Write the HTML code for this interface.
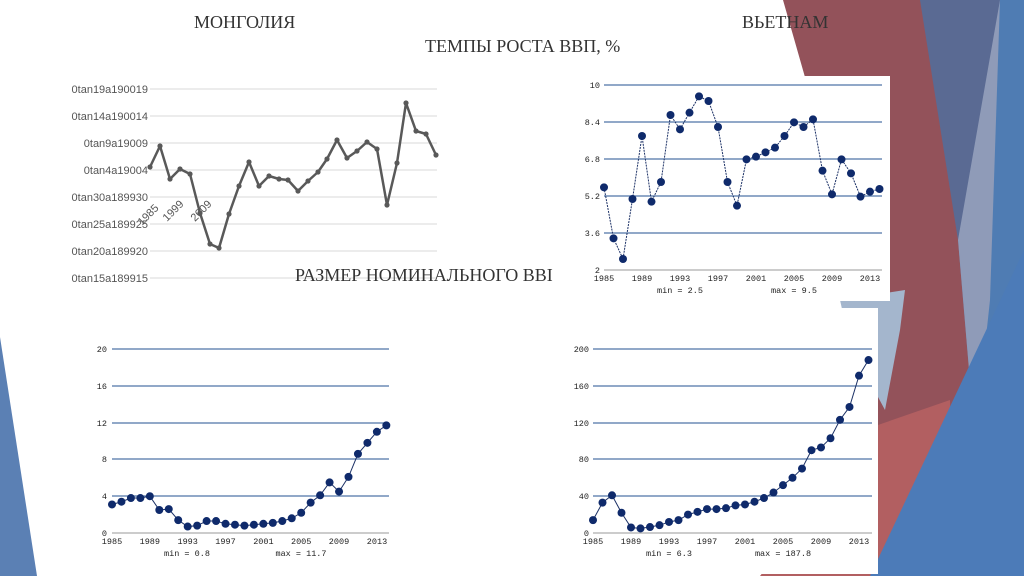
<!DOCTYPE html>
<html><head><meta charset="utf-8"><style>
html,body{margin:0;padding:0;background:#fff;width:1024px;height:576px;overflow:hidden}
svg{display:block}
.t{font-family:"Liberation Serif",serif;font-size:18px;fill:#333}
.m{font-family:"Liberation Sans",sans-serif;font-size:11px;fill:#555}
.k{font-family:"Liberation Mono",monospace;font-size:8.5px;fill:#222}
</style></head><body>
<svg id="s" width="1024" height="576" xmlns="http://www.w3.org/2000/svg">
<polygon points="880,0 1024,0 1024,576 860,576" fill="#4f7cb3"/>
<polygon points="915,0 1000,0 962,240 955,250" fill="#5a6a93"/>
<polygon points="783,0 920,0 958,240 975,440 945,470 878,440 878,300 840,200" fill="#93525a"/>
<polygon points="958,240 1000,0 990,300 975,440" fill="#8f9bb8"/>
<polygon points="840,300 905,290 900,330 885,410 850,345" fill="#a4b6cd"/>
<polygon points="878,425 950,400 955,576 760,576" fill="#b25f61"/>
<polygon points="870,576 1024,250 1024,576" fill="#4c7bb8"/>
<polygon points="0,337 37,576 0,576" fill="#5b80b4"/>
<rect x="567" y="76" width="323" height="225" fill="#fff"/>
<rect x="545" y="308" width="333" height="266" fill="#fff"/>
<text class="t" x="194" y="28">МОНГОЛИЯ</text>
<text class="t" x="742" y="28">ВЬЕТНАМ</text>
<text class="t" x="425" y="52">ТЕМПЫ РОСТА ВВП, %</text>
<g stroke="#d9d9d9" stroke-width="1">
<line x1="150" x2="437" y1="89" y2="89"/><line x1="150" x2="437" y1="116" y2="116"/>
<line x1="150" x2="437" y1="143" y2="143"/><line x1="150" x2="437" y1="170" y2="170"/>
<line x1="150" x2="437" y1="197" y2="197"/><line x1="150" x2="437" y1="224" y2="224"/>
<line x1="150" x2="437" y1="251" y2="251"/><line x1="150" x2="437" y1="278" y2="278"/>
</g>
<g class="m" text-anchor="end">
<text x="148" y="93">0tan19a190019</text><text x="148" y="120">0tan14a190014</text>
<text x="148" y="147">0tan9a19009</text><text x="148" y="174">0tan4a19004</text>
<text x="148" y="201">0tan30a189930</text><text x="148" y="228">0tan25a189925</text>
<text x="148" y="255">0tan20a189920</text><text x="148" y="282">0tan15a189915</text>
</g>
<g class="m" font-size="11">
<text transform="translate(142,226) rotate(-45)">1985</text>
<text transform="translate(167,222) rotate(-45)">1999</text>
<text transform="translate(195,222) rotate(-45)">2009</text>
</g>
<text class="t" x="295" y="281">РАЗМЕР НОМИНАЛЬНОГО ВВI</text>
<g id="charts"></g>
<g class="k" text-anchor="end">
<text x="600" y="88">10</text><text x="600" y="125">8.4</text><text x="600" y="162">6.8</text>
<text x="600" y="199">5.2</text><text x="600" y="236">3.6</text><text x="600" y="273">2</text>
</g>
<g class="k" text-anchor="middle">
<text x="604" y="281">1985</text><text x="642" y="281">1989</text><text x="680" y="281">1993</text>
<text x="718" y="281">1997</text><text x="756" y="281">2001</text><text x="794" y="281">2005</text>
<text x="832" y="281">2009</text><text x="870" y="281">2013</text>
<text x="680" y="293">min = 2.5</text><text x="794" y="293">max = 9.5</text>
</g>
<g class="k" text-anchor="end">
<text x="107" y="352">20</text><text x="107" y="389">16</text><text x="107" y="426">12</text>
<text x="107" y="462">8</text><text x="107" y="499">4</text><text x="107" y="536">0</text>
</g>
<g class="k" text-anchor="middle">
<text x="112" y="544">1985</text><text x="149.8" y="544">1989</text><text x="187.7" y="544">1993</text>
<text x="225.5" y="544">1997</text><text x="263.4" y="544">2001</text><text x="301.2" y="544">2005</text>
<text x="339" y="544">2009</text><text x="377" y="544">2013</text>
<text x="187" y="556">min = 0.8</text><text x="301" y="556">max = 11.7</text>
</g>
<g class="k" text-anchor="end">
<text x="589" y="352">200</text><text x="589" y="389">160</text><text x="589" y="426">120</text>
<text x="589" y="462">80</text><text x="589" y="499">40</text><text x="589" y="536">0</text>
</g>
<g class="k" text-anchor="middle">
<text x="593" y="544">1985</text><text x="631" y="544">1989</text><text x="669" y="544">1993</text>
<text x="707" y="544">1997</text><text x="745" y="544">2001</text><text x="783" y="544">2005</text>
<text x="821" y="544">2009</text><text x="859" y="544">2013</text>
<text x="669" y="556">min = 6.3</text><text x="783" y="556">max = 187.8</text>
</g>
</svg>
<script>
var NS="http://www.w3.org/2000/svg",g=document.getElementById("charts");
function el(n,a){var e=document.createElementNS(NS,n);for(var k in a)e.setAttribute(k,a[k]);g.appendChild(e);return e;}
var mg=[[150,167],[160,146],[170,179],[180,169],[190,174],[200,213],[210,244],[219,248],[229,214],[239,186],[249,162],[259,186],[269,176],[279,179],[288,180],[298,191],[308,181],[318,172],[327,159],[337,140],[347,158],[357,151],[367,142],[377,149],[387,205],[397,163],[406,103],[416,131],[426,134],[436,155]];
el("polyline",{points:mg.join(" "),fill:"none",stroke:"#595959","stroke-width":2.5,"stroke-linejoin":"round"});
mg.forEach(function(p){el("circle",{cx:p[0],cy:p[1],r:2.6,fill:"#595959"});});
function grid(x1,x2,ys){ys.forEach(function(y){el("line",{x1:x1,x2:x2,y1:y,y2:y,stroke:"#4f74a6","stroke-width":1.3});});}
function series(pts,dash){
 el("polyline",{points:pts.join(" "),fill:"none",stroke:"#1c3166","stroke-width":1,"stroke-dasharray":dash?"2,1":"none"});
 pts.forEach(function(p){el("circle",{cx:p[0],cy:p[1],r:4,fill:"#0f2a6b"});});
}
grid(604,882,[85,122,159,196,233]);
el("line",{x1:604,x2:882,y1:270,y2:270,stroke:"#999","stroke-width":1});
var z=[352,505,567,387,198,395,336,135,178,128,79,93,171,336,407,268,260,247,233,198,157,171,148,302,373,268,310,380,365,357];
series(z.map(function(v,i){return [604+9.5*i,70+v/3];}),true);
grid(112,389,[349,386,423,459,496]);
el("line",{x1:112,x2:389,y1:533,y2:533,stroke:"#999","stroke-width":1});
var a=[3.1,3.4,3.8,3.8,4.0,2.5,2.6,1.4,0.7,0.8,1.3,1.3,1.0,0.9,0.8,0.9,1.0,1.1,1.3,1.6,2.2,3.3,4.1,5.5,4.5,6.1,8.6,9.8,11,11.7];
series(a.map(function(v,i){return [112+9.46*i,533-v*9.2];}));
grid(593,872,[349,386,423,459,496]);
el("line",{x1:593,x2:872,y1:533,y2:533,stroke:"#999","stroke-width":1});
var b=[14,33,41,22,6,5,6.5,8.5,12,14,20,23,26,26,27,30,31,34,38,44,52,60,70,90,93,103,123,137,171,188];
series(b.map(function(v,i){return [593+9.5*i,533-v*0.92];}));
</script>
</body></html>
